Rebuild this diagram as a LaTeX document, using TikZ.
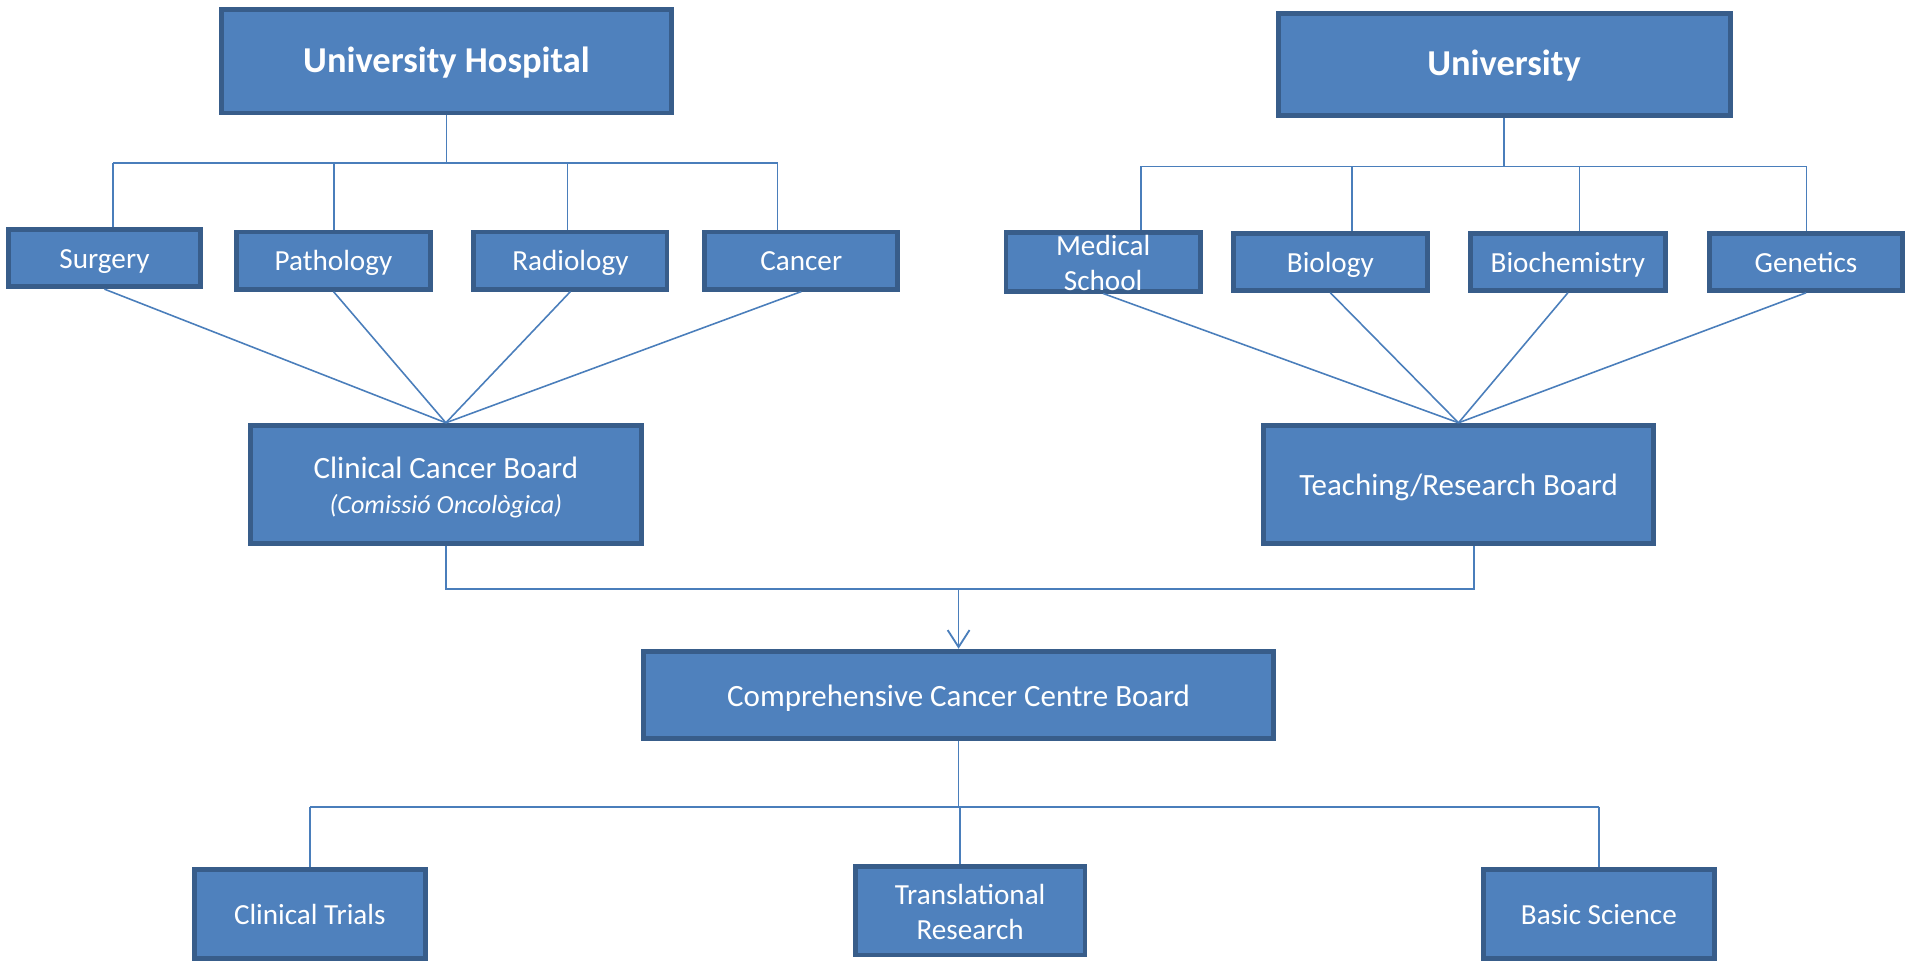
\documentclass[tikz,border=0pt]{standalone}
\usepackage{fontspec}
\setmainfont{Carlito}
\usetikzlibrary{arrows.meta}
\definecolor{boxfill}{HTML}{4F81BD}
\definecolor{boxline}{HTML}{385D8A}
\definecolor{connc}{HTML}{4A7EBB}
\tikzset{
  orgbox/.style={draw=boxline, fill=boxfill, line width=4pt, text=white,
    inner sep=0pt, align=center, font=\fontsize{24}{29}\selectfont},
  oneline/.style={orgbox, text height=22pt, text depth=5pt},
  boardbox/.style={orgbox, font=\fontsize{25.5}{30}\selectfont},
  boardone/.style={boardbox, text height=24pt, text depth=5pt},
  topbox/.style={orgbox, font=\bfseries\fontsize{30}{36}\selectfont, text height=25pt, text depth=6pt},
  conn/.style={draw=connc, line width=1.3pt},
  arrowconn/.style={conn, -{Straight Barb[length=14pt,width=18pt,line width=1.5pt]}}
}
\begin{document}
\begin{tikzpicture}[x=1pt,y=-1pt]
\useasboundingbox (0,0) rectangle (1568,791);
% top boxes
\node[topbox, minimum width=371pt, minimum height=85pt] (uh) at (367.5,50.5) {University Hospital};
\node[topbox, minimum width=372pt, minimum height=84pt] (uni) at (1238,53) {University};
% hospital departments
\node[oneline, minimum width=158pt, minimum height=47pt] (surgery) at (86,212.5) {Surgery};
\node[oneline, minimum width=159pt, minimum height=47pt] (pathology) at (274.5,214.5) {Pathology};
\node[oneline, minimum width=159pt, minimum height=47pt] (radiology) at (469.5,214.5) {Radiology};
\node[oneline, minimum width=159pt, minimum height=47pt] (cancer) at (659.5,214.5) {Cancer};
% university departments
\node[orgbox, minimum width=160pt, minimum height=47pt] (medical) at (908,215.5) {\rule{0pt}{19pt}Medical\\School};
\node[oneline, minimum width=160pt, minimum height=47pt] (biology) at (1095,215.5) {Biology};
\node[oneline, minimum width=161pt, minimum height=47pt] (biochem) at (1290.5,215.5) {Biochemistry};
\node[oneline, minimum width=159pt, minimum height=47pt] (genetics) at (1486.5,215.5) {Genetics};
% boards
\node[boardbox, minimum width=322pt, minimum height=97pt] (ccb) at (367,398.5)
  {\rule{0pt}{23pt}Clinical Cancer Board\\[-1pt]{\itshape\fontsize{21.5}{26}\selectfont (Comissió Oncològica)}};
\node[boardone, minimum width=321pt, minimum height=97pt] (trb) at (1200.5,398.5) {Teaching/Research Board};
\node[boardone, minimum width=518pt, minimum height=72pt] (cccb) at (789,572) {Comprehensive Cancer Centre Board};
% bottom row
\node[oneline, minimum width=190pt, minimum height=73pt] (trials) at (255,752.5) {Clinical Trials};
\node[orgbox, minimum width=189pt, minimum height=73pt] (transl) at (798.5,749.5) {\rule{0pt}{19pt}Translational\\Research};
\node[oneline, minimum width=190pt, minimum height=73pt] (basic) at (1316,752.5) {Basic Science};
% hospital tree
\coordinate (ha) at (93,134);
\coordinate (hb) at (275,134);
\coordinate (hc) at (467,134);
\coordinate (hd) at (640,134);
\draw[conn] (uh.south) -- (uh.south |- ha);
\draw[conn] (ha) -- (hd);
\draw[conn] (ha) -- (ha |- surgery.north);
\draw[conn] (hb) -- (hb |- pathology.north);
\draw[conn] (hc) -- (hc |- radiology.north);
\draw[conn] (hd) -- (hd |- cancer.north);
% university tree
\coordinate (ua) at (939,137);
\coordinate (ub) at (1113,137);
\coordinate (uc) at (1300,137);
\coordinate (ud) at (1487,137);
\draw[conn] (uni.south) -- (uni.south |- ua);
\draw[conn] (ua) -- (ud);
\draw[conn] (ua) -- (ua |- medical.north);
\draw[conn] (ub) -- (ub |- biology.north);
\draw[conn] (uc) -- (uc |- biochem.north);
\draw[conn] (ud) -- (ud |- genetics.north);
% converging lines
\draw[conn] (surgery.south) -- (ccb.north);
\draw[conn] (pathology.south) -- (ccb.north);
\draw[conn] (radiology.south) -- (ccb.north);
\draw[conn] (cancer.south) -- (ccb.north);
\draw[conn] (medical.south) -- (trb.north);
\draw[conn] (biology.south) -- (trb.north);
\draw[conn] (biochem.south) -- (trb.north);
\draw[conn] (genetics.south) -- (trb.north);
% merge to centre board
\coordinate (ma) at (367,485);
\coordinate (mb) at (1213,485);
\coordinate (mc) at (789,485);
\draw[conn] (ccb.south) -- (ccb.south |- ma) -- (mb) -- (mb |- trb.south);
\draw[arrowconn] (mc) -- (cccb.north);
% lower tree
\coordinate (la) at (255,664);
\coordinate (lb) at (790,664);
\coordinate (lc) at (1316,664);
\draw[conn] (cccb.south) -- (cccb.south |- lb);
\draw[conn] (la) -- (lc);
\draw[conn] (la) -- (la |- trials.north);
\draw[conn] (lb) -- (lb |- transl.north);
\draw[conn] (lc) -- (lc |- basic.north);
\end{tikzpicture}
\end{document}
